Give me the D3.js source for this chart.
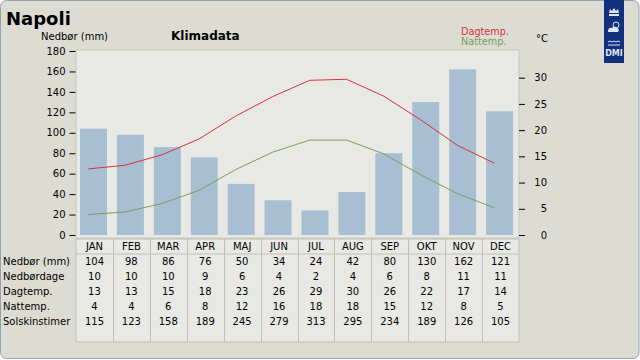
<!DOCTYPE html>
<html><head><meta charset="utf-8">
<script src="https://cdn.jsdelivr.net/npm/d3@7/dist/d3.min.js"></script>
<style>
html,body{margin:0;padding:0;background:#fff;}
svg{display:block;font-family:"DejaVu Sans",sans-serif;}
</style></head>
<body>
<svg id="c" width="640" height="360"></svg>
<script>
const months = ["JAN","FEB","MAR","APR","MAJ","JUN","JUL","AUG","SEP","OKT","NOV","DEC"];
const precip = [104,98,86,76,50,34,24,42,80,130,162,121];
const rainDays = [10,10,10,9,6,4,2,4,6,8,11,11];
const dayTemp = [13,13,15,18,23,26,29,30,26,22,17,14];
const nightTemp = [4,4,6,8,12,16,18,18,15,12,8,5];
const sunHours = [115,123,158,189,245,279,313,295,234,189,126,105];
// line values as drawn in the chart
const dayTempLine = [12.6,13.3,15.3,18.3,22.7,26.4,29.5,29.7,26.5,22.0,17.1,13.7];
const nightTempLine = [3.9,4.4,6.0,8.5,12.5,15.8,18.1,18.1,15.5,11.5,7.9,5.2];
const precipTicks = [0,20,40,60,80,100,120,140,160,180];
const tempTicks = [0,5,10,15,20,25,30];
const rowLabels = ["Nedbør (mm)","Nedbørdage","Dagtemp.","Nattemp.","Solskinstimer"];
const rows = [precip, rainDays, dayTemp, nightTemp, sunHours];

const svg = d3.select("#c");
const L = 76, R = 519, T = 50, B = 235;

// outer frame
svg.append("rect").attr("x",0.5).attr("y",0.5).attr("width",638.5).attr("height",358)
  .attr("rx",6).attr("fill","#dcdcd3").attr("stroke","#8fa2b4").attr("stroke-width",1);

// plot background
svg.append("rect").attr("x",L).attr("y",T).attr("width",R-L).attr("height",238-T)
  .attr("fill","#e8e9e4").attr("stroke","#c6c6ba");

const x = d3.scaleBand().domain(months).range([L,R]).padding(0);
const yP = d3.scaleLinear().domain([0,180]).range([B,51]);
const yT = d3.scaleLinear().domain([0,30]).range([B,77.7]);

// bars
svg.append("g").selectAll("rect").data(months).join("rect")
  .attr("x",m=>x(m)+4).attr("width",27)
  .attr("y",(m,i)=>yP(precip[i])).attr("height",(m,i)=>yP(0)-yP(precip[i]))
  .attr("fill","#a8bfd3");

// lines
const lx = m => x(m)+x.bandwidth()*0.33;
const line = d3.line().x((d,i)=>lx(months[i])).y(d=>yT(d));
svg.append("path").datum(dayTempLine).attr("d",line).attr("fill","none")
  .attr("stroke","#d7333c").attr("stroke-width",1);
svg.append("path").datum(nightTempLine).attr("d",line).attr("fill","none")
  .attr("stroke","#77a05a").attr("stroke-width",1);

// left axis
const ax1 = svg.append("g").attr("transform",`translate(${L-0.5},0)`)
  .call(d3.axisLeft(yP).tickValues(precipTicks).tickSize(6).tickPadding(4));
ax1.select(".domain").remove();
ax1.selectAll("line").attr("stroke","#000");
ax1.selectAll("text").attr("font-size",10).attr("font-family","DejaVu Sans").attr("fill","#000");

// right axis
const ax2 = svg.append("g").attr("transform",`translate(${R},0)`)
  .call(d3.axisRight(yT).tickValues(tempTicks).tickSize(6).tickPadding(0));
ax2.select(".domain").remove();
ax2.selectAll("line").attr("stroke","#000");
ax2.selectAll("text").attr("font-size",10).attr("font-family","DejaVu Sans").attr("fill","#000")
  .attr("text-anchor","end").attr("x",28);

// titles
svg.append("text").attr("x",6).attr("y",25).attr("font-size",18).attr("font-weight","bold").text("Napoli");
svg.append("text").attr("x",41).attr("y",40).attr("font-size",10).text("Nedbør (mm)");
svg.append("text").attr("x",171).attr("y",40).attr("font-size",12).attr("font-weight","bold").text("Klimadata");
svg.append("text").attr("x",461).attr("y",35).attr("font-size",9.7).attr("fill","#d7333c").text("Dagtemp.");
svg.append("text").attr("x",461).attr("y",45).attr("font-size",9.7).attr("fill","#77a05a").text("Nattemp.");
svg.append("text").attr("x",536).attr("y",42).attr("font-size",10).text("°C");

// DMI logo
const lg = svg.append("g");
lg.append("rect").attr("x",604).attr("y",0).attr("width",20).attr("height",63).attr("fill","#13307f");
lg.append("path").attr("d","M609,13 L610,9 L612,11 L614,8 L616,11 L618,9 L619,13 Z M609,14 L619,14 L619,16 L609,16 Z").attr("fill","#dfe6f2");
lg.append("circle").attr("cx",616).attr("cy",25).attr("r",3).attr("fill","none").attr("stroke","#dfe6f2").attr("stroke-width",1);
lg.append("path").attr("d","M608,32 Q608,27 612,28 Q614,25 617,28 Q620,29 618,32 Z").attr("fill","#dfe6f2");
lg.append("path").attr("d","M608,42 Q610,40 612,42 Q614,40 616,42 Q618,40 620,42 M608,45 L620,45").attr("fill","none").attr("stroke","#dfe6f2").attr("stroke-width",1);
lg.append("text").attr("x",614).attr("y",56).attr("text-anchor","middle").attr("font-size",8).attr("font-weight","bold").attr("fill","#dfe6f2").text("DMI");

// table
const tT = 239, tH = 254, tB = 342;
const tg = svg.append("g");
tg.append("rect").attr("x",L).attr("y",tT).attr("width",R-L).attr("height",tB-tT)
  .attr("fill","#e8e9e4").attr("stroke","#c0c0b4");
tg.append("line").attr("x1",L).attr("x2",R).attr("y1",tH).attr("y2",tH).attr("stroke","#c0c0b4");
tg.selectAll("line.v").data(months.slice(1)).join("line").attr("class","v")
  .attr("x1",m=>Math.round(x(m))+0.5).attr("x2",m=>Math.round(x(m))+0.5)
  .attr("y1",tT).attr("y2",tB).attr("stroke","#c0c0b4");
tg.selectAll("text.h").data(months).join("text").attr("class","h")
  .attr("x",m=>x(m)+x.bandwidth()/2).attr("y",250).attr("text-anchor","middle")
  .attr("font-size",10).text(m=>m);
rows.forEach((r,ri)=>{
  const yy = 265 + ri*15;
  tg.append("text").attr("x",3).attr("y",yy).attr("font-size",10).text(rowLabels[ri]);
  tg.selectAll("text.r"+ri).data(r).join("text").attr("class","r"+ri)
    .attr("x",(d,i)=>x(months[i])+x.bandwidth()/2).attr("y",yy).attr("text-anchor","middle")
    .attr("font-size",10).text(d=>d);
});
</script>
</body></html>
